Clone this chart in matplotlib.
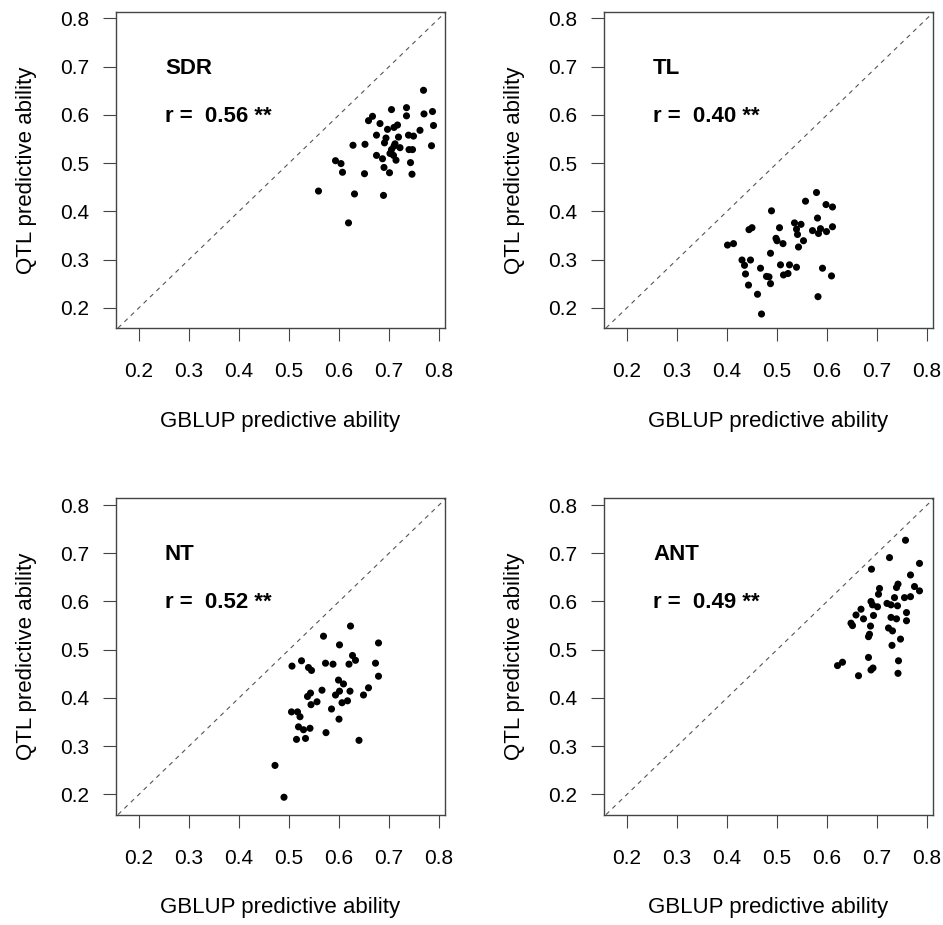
import matplotlib
matplotlib.use('Agg')
import matplotlib.pyplot as plt

plt.rcParams['font.family'] = ['Liberation Sans', 'DejaVu Sans']

## Data (GBLUP vs QTL predictive ability)

traits = ['SDR', 'TL', 'NT', 'ANT']
r_text = ['0.56', '0.40', '0.52', '0.49']

sdr_x = [0.769, 0.705, 0.735, 0.787, 0.770, 0.735, 0.667, 0.659, 0.682, 0.789,
         0.717, 0.710, 0.697, 0.762, 0.675, 0.694, 0.719, 0.739, 0.749, 0.691,
         0.628, 0.652, 0.710, 0.722, 0.705, 0.740, 0.747, 0.785, 0.675, 0.687,
         0.709, 0.714, 0.593, 0.604, 0.743, 0.690, 0.607, 0.651, 0.701, 0.746,
         0.559, 0.631, 0.689, 0.619, 0.702, 0.712]
sdr_y = [0.651, 0.611, 0.615, 0.607, 0.602, 0.598, 0.597, 0.588, 0.582, 0.578,
         0.579, 0.574, 0.570, 0.568, 0.558, 0.552, 0.554, 0.558, 0.556, 0.542,
         0.537, 0.539, 0.535, 0.532, 0.528, 0.528, 0.528, 0.536, 0.516, 0.509,
         0.516, 0.506, 0.505, 0.499, 0.501, 0.491, 0.481, 0.478, 0.480, 0.477,
         0.442, 0.436, 0.433, 0.376, 0.520, 0.540]

tl_x = [0.579, 0.557, 0.598, 0.611, 0.489, 0.581, 0.535, 0.548, 0.450, 0.444,
        0.505, 0.539, 0.611, 0.571, 0.587, 0.599, 0.583, 0.541, 0.498, 0.500,
        0.553, 0.512, 0.401, 0.413, 0.543, 0.487, 0.430, 0.447, 0.435, 0.507,
        0.525, 0.467, 0.539, 0.591, 0.437, 0.513, 0.522, 0.479, 0.484, 0.609,
        0.443, 0.487, 0.461, 0.582, 0.469]
tl_y = [0.439, 0.421, 0.414, 0.409, 0.401, 0.386, 0.376, 0.373, 0.366, 0.362,
        0.366, 0.363, 0.368, 0.360, 0.364, 0.358, 0.354, 0.352, 0.344, 0.339,
        0.339, 0.333, 0.330, 0.333, 0.326, 0.313, 0.299, 0.299, 0.288, 0.289,
        0.289, 0.282, 0.284, 0.282, 0.270, 0.268, 0.271, 0.265, 0.264, 0.266,
        0.247, 0.250, 0.228, 0.223, 0.187]

nt_x = [0.623, 0.569, 0.679, 0.601, 0.627, 0.633, 0.525, 0.506, 0.539, 0.545,
        0.573, 0.588, 0.620, 0.673, 0.679, 0.599, 0.609, 0.659, 0.566, 0.622,
        0.601, 0.543, 0.593, 0.649, 0.537, 0.617, 0.606, 0.556, 0.544, 0.585,
        0.505, 0.517, 0.522, 0.600, 0.519, 0.529, 0.542, 0.574, 0.515, 0.533,
        0.640, 0.472, 0.490]
nt_y = [0.549, 0.528, 0.514, 0.510, 0.488, 0.478, 0.477, 0.466, 0.463, 0.457,
        0.472, 0.470, 0.470, 0.472, 0.445, 0.437, 0.429, 0.421, 0.416, 0.414,
        0.414, 0.410, 0.406, 0.406, 0.403, 0.394, 0.390, 0.392, 0.386, 0.377,
        0.371, 0.371, 0.361, 0.356, 0.340, 0.334, 0.337, 0.328, 0.314, 0.316,
        0.312, 0.260, 0.194]

ant_x = [0.757, 0.725, 0.785, 0.689, 0.767, 0.742, 0.739, 0.705, 0.775, 0.785,
         0.703, 0.767, 0.755, 0.735, 0.688, 0.691, 0.701, 0.720, 0.728, 0.741,
         0.668, 0.759, 0.658, 0.693, 0.673, 0.728, 0.739, 0.759, 0.648, 0.651,
         0.687, 0.723, 0.731, 0.685, 0.683, 0.747, 0.730, 0.683, 0.743, 0.631,
         0.621, 0.692, 0.688, 0.742, 0.663]
ant_y = [0.727, 0.691, 0.679, 0.667, 0.655, 0.636, 0.629, 0.627, 0.631, 0.622,
         0.615, 0.610, 0.608, 0.608, 0.600, 0.593, 0.589, 0.596, 0.593, 0.591,
         0.584, 0.577, 0.572, 0.571, 0.564, 0.567, 0.564, 0.560, 0.555, 0.550,
         0.549, 0.545, 0.539, 0.532, 0.527, 0.522, 0.509, 0.484, 0.477, 0.474,
         0.467, 0.462, 0.458, 0.451, 0.446]

xs = [sdr_x, tl_x, nt_x, ant_x]
ys = [sdr_y, tl_y, nt_y, ant_y]
ticks = [0.2, 0.3, 0.4, 0.5, 0.6, 0.7, 0.8]

W, H = 943, 925
fig = plt.figure(figsize=(W / 100, H / 100), dpi=100)

# axes boxes in pixels (left, top), same size for all
lefts = [116, 604, 116, 604]
tops = [11.7, 11.7, 498.3, 498.3]
aw, ah = 329, 316.3

for i in range(4):
    ax = fig.add_axes([lefts[i] / W, (H - tops[i] - ah) / H, aw / W, ah / H])
    ax.scatter(xs[i], ys[i], s=26, color='black', edgecolors='none', zorder=3)
    ax.axline((0, 0), (1, 1), color='#555555', lw=0.8, ls=(0, (4, 4)), zorder=2)
    ax.set_xlim(0.154, 0.812)
    ax.set_ylim(0.158, 0.814)
    ax.set_xticks(ticks)
    ax.set_yticks(ticks)
    ax.set_xticklabels(['%.1f' % t for t in ticks])
    ax.set_yticklabels(['%.1f' % t for t in ticks])
    ax.tick_params(axis='both', direction='out', length=9.5, width=0.8,
                   color='#444444', labelsize=15)
    ax.tick_params(axis='x', pad=15)
    ax.tick_params(axis='y', pad=10)
    for sp in ax.spines.values():
        sp.set_color('#444444')
        sp.set_linewidth(1.0)
    ax.set_xlabel('GBLUP predictive ability', fontsize=16)
    ax.set_ylabel('QTL predictive ability', fontsize=16)
    ax.xaxis.set_label_coords(0.5, -0.262)
    ax.yaxis.set_label_coords(-0.24, 0.5)
    ax.text(0.252, 0.697, traits[i], fontsize=16, fontweight='bold',
            ha='left', va='center')
    ax.text(0.252, 0.597, 'r =  ' + r_text[i] + ' **', fontsize=16,
            fontweight='bold', ha='left', va='center')

fig.savefig('out.png', dpi=100)
